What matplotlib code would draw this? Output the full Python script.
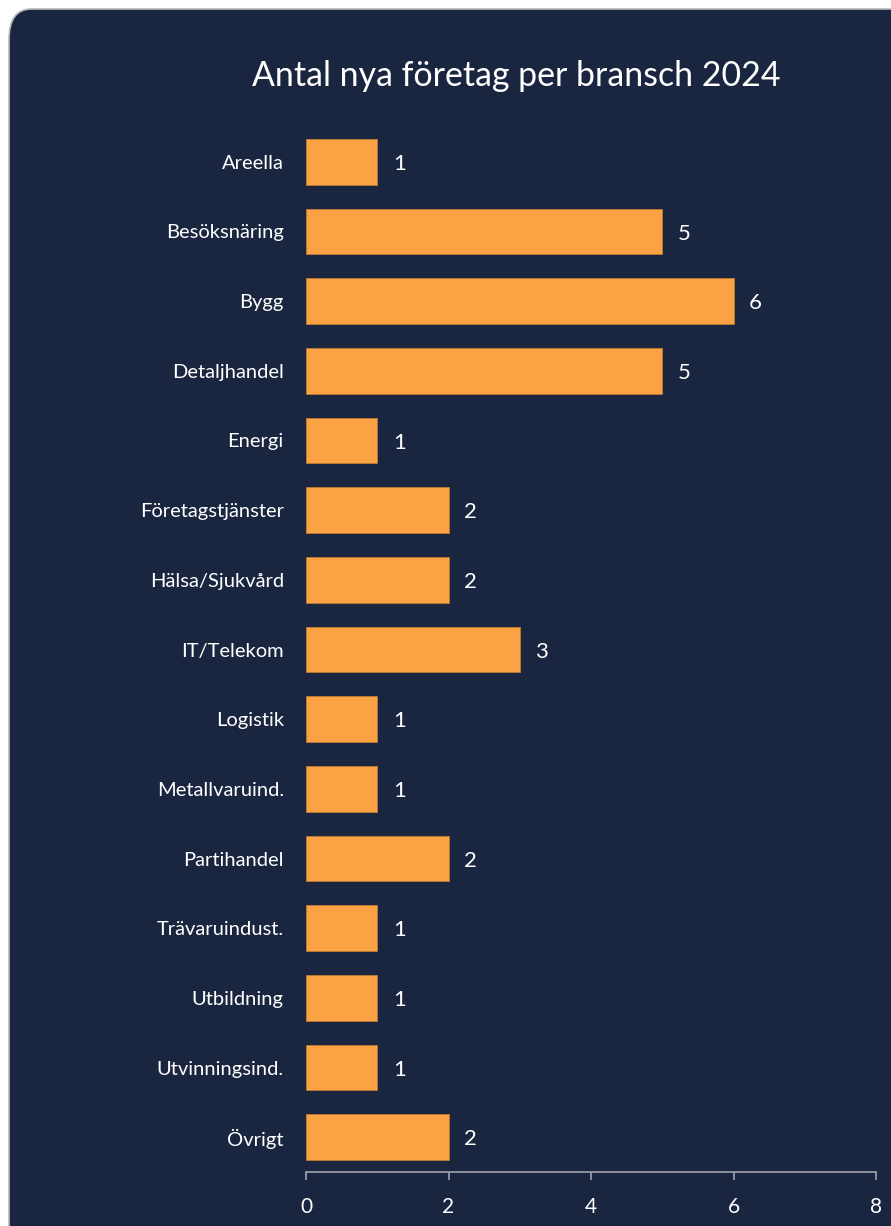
import matplotlib.pyplot as plt
from matplotlib.patches import FancyBboxPatch

# data
branscher = ["Areella", "Besöksnäring", "Bygg", "Detaljhandel", "Energi",
             "Företagstjänster", "Hälsa/Sjukvård", "IT/Telekom", "Logistik",
             "Metallvaruind.", "Partihandel", "Trävaruindust.", "Utbildning",
             "Utvinningsind.", "Övrigt"]
antal = [1, 5, 6, 5, 1, 2, 2, 3, 1, 1, 2, 1, 1, 1, 2]
xticks = [0, 2, 4, 6, 8]

bg = "#1a2540"
bar_color = "#fba244"
plt.rcParams['font.family'] = ['Lato', 'DejaVu Sans']

fig = plt.figure(figsize=(8.91, 12.26), dpi=100, facecolor="white")
# rounded dark card
card = FancyBboxPatch((9 / 891, -0.05), 1.2, 1.05 - 9 / 1226,
                      boxstyle="round,pad=0,rounding_size=0.025",
                      transform=fig.transFigure, facecolor=bg,
                      edgecolor="#b8b8b8", linewidth=1.2, zorder=-5)
fig.patches.append(card)

ax = fig.add_axes([306 / 891, 1 - 1172 / 1226, (876 - 306) / 891, (1172 - 127) / 1226])
ax.set_facecolor("none")
y = range(len(branscher))
bars = ax.barh(y, antal, height=0.66, color=bar_color, edgecolor="#c07a30", linewidth=0.6)
for i, v in enumerate(antal):
    ax.text(v + 0.22, i + 0.03, str(v), va="center", ha="left", color="white", fontsize=16)

ax.set_yticks(list(y))
ax.set_yticklabels(branscher, color="white", fontsize=14.5)
ax.set_ylim(len(branscher) - 0.5, -0.5)
ax.set_xlim(0, 8)
ax.set_xticks(xticks)
ax.set_xticklabels([str(t) for t in xticks], color="white", fontsize=15)
ax.tick_params(axis="y", length=0, pad=16)
ax.tick_params(axis="x", length=6, color="#a0a4ad", width=1.2, pad=12)
for s in ["top", "right", "left"]:
    ax.spines[s].set_visible(False)
ax.spines["bottom"].set_color("#a0a4ad")
ax.spines["bottom"].set_linewidth(1.2)

fig.text(516 / 891, 1 - 76 / 1226, "Antal nya företag per bransch 2024",
         ha="center", va="center", color="white", fontsize=24.4)

fig.savefig("out.png", dpi=100, facecolor="white")
